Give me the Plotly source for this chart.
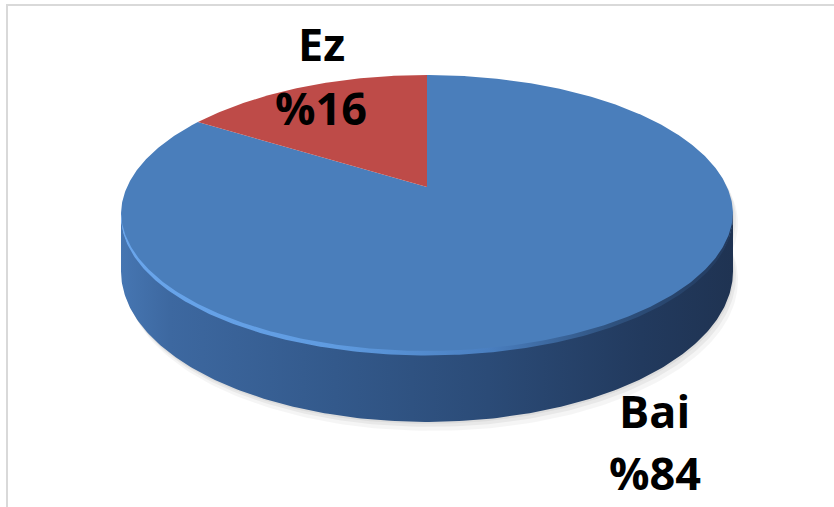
import numpy as np
import plotly.graph_objects as go

# ---- data ----
categories = ["Bai", "Ez"]
values = [84, 16]
slice_colors = ["#4a7ebb", "#be4b48"]

# ---- geometry / style (pixel space) ----
W, H = 834, 507
CX, CY = 427, 187        # apex of the slices
R = 300                  # horizontal radius
PERS = -0.197            # perspective factor
QY = 97.2                # vertical half-extent of the tilted disc
DEPTH = 54.6             # thickness of the disc


def proj(phi_deg, drop=0.0, dx=0.0):
    phi = np.radians(phi_deg)
    X = np.sin(phi)
    Z = -np.cos(phi)
    d = 1 + PERS * Z
    x = CX + R * X / d + dx
    y = (CY + QY * Z + drop) / d
    return x, y


fig = go.Figure()

# soft shadow under the disc
for ddx, ddy, a in [(5, 9, 0.04), (3, 5, 0.05), (1, 2, 0.05)]:
    ph = np.linspace(60, 300, 200)
    xb, yb = proj(ph, DEPTH, ddx)
    xt, yt = proj(ph[::-1], 0, ddx)
    fig.add_trace(go.Scatter(x=np.r_[xb, xt], y=np.r_[yb + ddy, yt + ddy],
                             fill="toself", mode="lines", line=dict(width=0),
                             fillcolor=f"rgba(0,0,0,{a})", hoverinfo="skip",
                             showlegend=False))

# side wall (front, visible part)
ph_side = np.linspace(101.4, 258.6, 240)
xs_t, ys_t = proj(ph_side, 0)
xs_b, ys_b = proj(ph_side[::-1], DEPTH)
fig.add_trace(go.Scatter(
    x=np.r_[xs_t, xs_b], y=np.r_[ys_t, ys_b], fill="toself", mode="lines",
    line=dict(width=0),
    fillgradient=dict(type="horizontal",
                      colorscale=[[0, "#4676b2"], [0.08, "#3d68a0"], [0.35, "#33598b"],
                                  [0.6, "#2b4b77"], [0.85, "#223a5e"], [1, "#1f3352"]]),
    hoverinfo="skip", showlegend=False))

# top slices (angles from the data, clockwise from 12 o'clock)
total = sum(values)
start = 0.0
for cat, val, col in zip(categories, values, slice_colors):
    end = start + 360.0 * val / total
    ph = np.linspace(start, end, max(int(abs(end - start)) * 2, 10))
    xa, ya = proj(ph, 0)
    fig.add_trace(go.Scatter(x=np.r_[CX, xa, CX], y=np.r_[CY, ya, CY],
                             fill="toself", mode="lines", line=dict(width=0),
                             fillcolor=col, name=cat, hoverinfo="name",
                             showlegend=False))
    start = end

# rim highlight on the front edge of the top face
ph_rim = np.linspace(101.4, 258.6, 240)
xr1, yr1 = proj(ph_rim, 0)
xr2, yr2 = proj(ph_rim[::-1], 0)
fig.add_trace(go.Scatter(
    x=np.r_[xr1, xr2], y=np.r_[yr1 + 1.5, yr2 - 3.0], fill="toself", mode="lines",
    line=dict(width=0),
    fillgradient=dict(type="horizontal",
                      colorscale=[[0, "#6aa6ec"], [0.35, "#5f9be0"], [0.6, "#4a7fc0"],
                                  [0.8, "#2f527f"], [1, "#22395c"]]),
    hoverinfo="skip", showlegend=False))

# labels
label_font = dict(family="Open Sans, Arial, sans-serif", size=45, color="#000000")
label_pos = {"Ez": ((321, 43), (321, 107)), "Bai": ((654, 410), (655, 472))}
for cat, val in zip(categories, values):
    (x1, y1), (x2, y2) = label_pos[cat]
    fig.add_annotation(x=x1, y=y1, text=f"<b>{cat}</b>", showarrow=False,
                       font=label_font, xanchor="center", yanchor="middle")
    fig.add_annotation(x=x2, y=y2, text=f"<b>%{val}</b>", showarrow=False,
                       font=label_font, xanchor="center", yanchor="middle")

# chart frame (cropped at right / bottom)
fig.add_shape(type="rect", x0=7, y0=5, x1=W + 10, y1=H + 10,
              line=dict(color="#d9d9d9", width=2), layer="below")

fig.update_layout(
    width=W, height=H, margin=dict(l=0, r=0, t=0, b=0),
    paper_bgcolor="white", plot_bgcolor="white",
    xaxis=dict(range=[0, W], visible=False, fixedrange=True),
    yaxis=dict(range=[H, 0], visible=False, fixedrange=True),
)

fig.write_html("out.html")
